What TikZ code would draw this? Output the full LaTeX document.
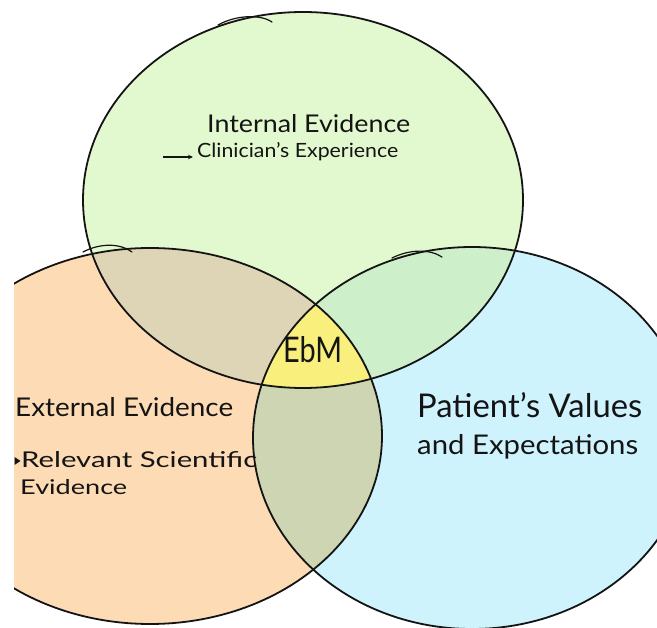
\documentclass[tikz,border=0pt]{standalone}
\usepackage{fontspec}
\setmainfont{Lato}
\usepackage{graphicx}
\usetikzlibrary{arrows.meta}

\definecolor{ink}{RGB}{20,20,20}
\definecolor{fillInternal}{RGB}{226,249,207}
\definecolor{fillExternal}{RGB}{253,219,181}
\definecolor{fillPatient}{RGB}{207,243,252}
\definecolor{fillIntExt}{RGB}{221,213,181}
\definecolor{fillIntPat}{RGB}{205,240,203}
\definecolor{fillExtPat}{RGB}{206,213,178}
\definecolor{fillCore}{RGB}{248,239,125}

% the three evidence sets (pixel-like units, y pointing down)
\newcommand\shapeInternal{(303,200) ellipse [x radius=220, y radius=188]}
\newcommand\shapeExternal{(150,436) ellipse [x radius=232, y radius=188]}
\newcommand\shapePatient{(472,438) ellipse [x radius=219, y radius=191]}
% text line stretched to a given width and height
\newcommand\hand[3]{\resizebox{#1pt}{#2pt}{#3}}

\begin{document}
\begin{tikzpicture}[x=1pt, y=-1pt,
  outline/.style={draw=ink, line width=1.8pt},
  penstroke/.style={draw=ink, line width=1.2pt, line cap=round},
  lbl/.style={inner sep=0pt, anchor=base west, text=ink}]
\useasboundingbox (0,0) rectangle (657,628);
\fill[white] (0,0) rectangle (657,628);

\begin{scope}
  \clip (14,0) rectangle (657,628);
  % plain set colours
  \fill[fillInternal] \shapeInternal;
  \fill[fillExternal] \shapeExternal;
  \fill[fillPatient] \shapePatient;
  % pairwise overlaps
  \begin{scope}
    \clip \shapeInternal;
    \fill[fillIntExt] \shapeExternal;
  \end{scope}
  \begin{scope}
    \clip \shapeInternal;
    \fill[fillIntPat] \shapePatient;
  \end{scope}
  \begin{scope}
    \clip \shapeExternal;
    \fill[fillExtPat] \shapePatient;
  \end{scope}
  % common core
  \begin{scope}
    \clip \shapeInternal;
    \clip \shapeExternal;
    \fill[fillCore] \shapePatient;
  \end{scope}
  % outlines
  \path[outline] \shapeInternal;
  \path[outline] \shapeExternal;
  \path[outline] \shapePatient;
  % pen overlaps where each circle was closed
  \path[penstroke] (218,25) .. controls (236,15) and (260,14) .. (272,22);
  \path[penstroke] (83,252) .. controls (100,243) and (120,243) .. (132,252);
  \path[penstroke] (392,258) .. controls (410,249) and (430,249) .. (442,257);
\end{scope}

% labels
\node[lbl] (internal) at (207,133) {\hand{203}{18}{Internal Evidence}};
\node[lbl] (clinician) at (197,158) {\hand{201}{15}{Clinician's Experience}};
\coordinate (arrowtail) at (163,157);
\coordinate (arrowtip) at (193,157);
\draw[ink, line width=1.2pt, -{Stealth[length=5pt,width=4.5pt]}] (arrowtail) -- (arrowtip);

\node[lbl] (external) at (15,417) {\hand{218}{19}{External Evidence}};
\fill[ink] (14.5,457) -- (20.5,461) -- (14.5,465) -- cycle;
\node[lbl] (relevant) at (21,468) {\hand{236}{16}{Relevant Scientific}};
\node[lbl] (evidence) at (20,495) {\hand{107}{15}{Evidence}};

\node[lbl] (patient) at (417,418) {\hand{225}{25}{Patient's Values}};
\node[lbl] (expect) at (417,455) {\hand{221}{20}{and Expectations}};

\node[lbl] (ebm) at (283,363) {\hand{59}{26}{EbM}};
\end{tikzpicture}
\end{document}
